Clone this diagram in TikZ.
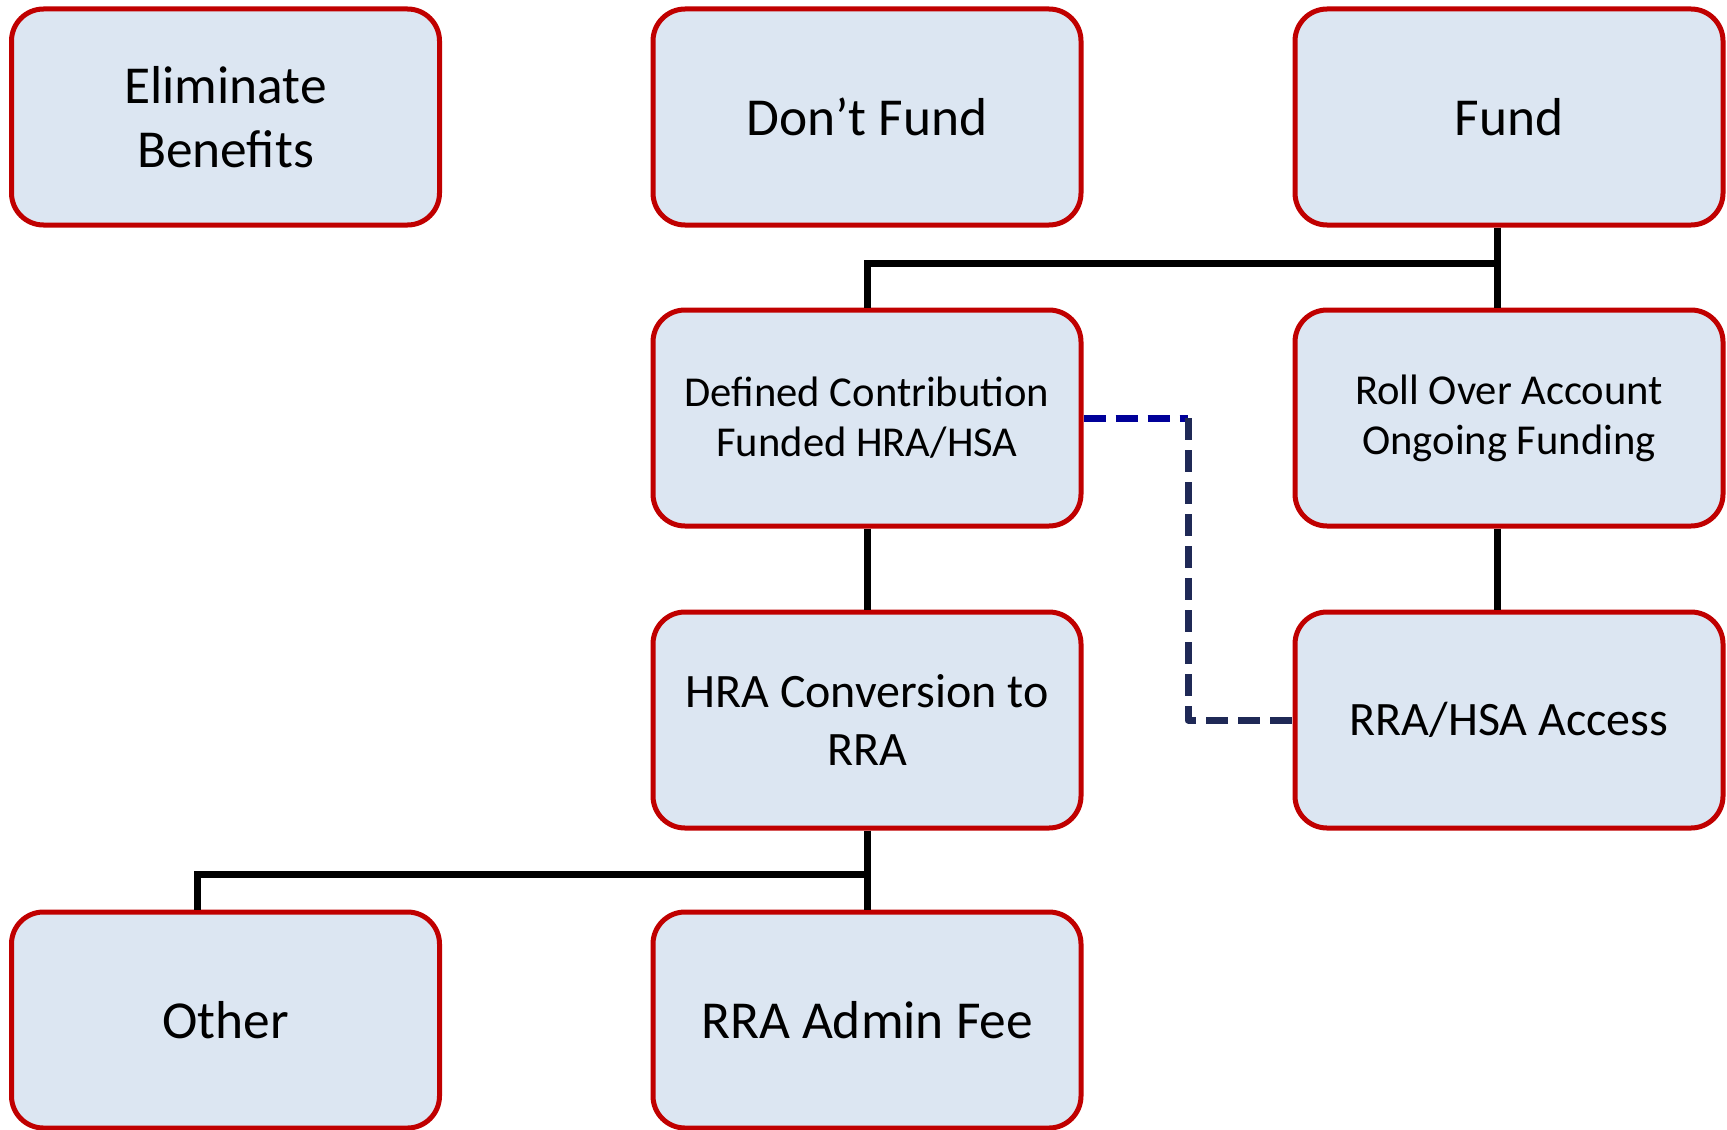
\documentclass[tikz,border=0pt]{standalone}
\usepackage{fontspec}
\setmainfont{Carlito}
\definecolor{boxfill}{RGB}{220,230,242}
\definecolor{boxline}{RGB}{192,0,0}
\definecolor{dashblue}{RGB}{0,0,153}
\definecolor{dashnavy}{RGB}{31,41,86}

\begin{document}
\begin{tikzpicture}[x=0.5pt, y=-0.5pt,
    box/.style={draw=boxline, fill=boxfill, line width=2.5pt, rounded corners=16pt,
      minimum width=214pt, minimum height=108pt, align=center, inner sep=0pt},
    bigtext/.style={font=\fontsize{26.7}{32}\selectfont},
    midtext/.style={font=\fontsize{24}{29}\selectfont},
    smalltext/.style={font=\fontsize{21.3}{25}\selectfont},
    link/.style={line width=3.5pt, draw=black},
    dashlink/.style={line width=3.5pt, dash pattern=on 11pt off 5pt, line join=round}]
    \useasboundingbox (0,0) rectangle (1727,1129);

    % draw top row
    \node[box, bigtext] (elim) at (225.5,117) {Eliminate\\Benefits};
    \node[box, bigtext] (dontfund) at (867,117) {Don’t Fund};
    \node[box, bigtext] (fund) at (1509,117) {Fund};

    % draw second row
    \node[box, smalltext] (defined) at (867,418) {Defined Contribution\\Funded HRA/HSA};
    \node[box, smalltext] (rollover) at (1509,418) {Roll Over Account\\Ongoing Funding};

    % draw third row
    \node[box, midtext] (hraconv) at (867,720) {HRA Conversion to\\RRA};
    \node[box, midtext] (access) at (1509,720) {RRA/HSA Access};

    % draw bottom row
    \node[box, bigtext] (other) at (225.5,1020) {Other};
    \node[box, bigtext] (adminfee) at (867,1020) {RRA Admin Fee};

    % draw solid links
    \coordinate (fundjoin) at (1497,263);
    \coordinate (feejoin) at (867,874);
    \draw[link] ([xshift=-6pt]fund.south) -- ([xshift=-6pt]rollover.north);
    \draw[link] (defined.north) |- (fundjoin);
    \draw[link] (defined.south) -- (hraconv.north);
    \draw[link] ([xshift=-6pt]rollover.south) -- ([xshift=-6pt]access.north);
    \draw[link] (hraconv.south) -- (adminfee.north);
    \draw[link] ([xshift=-14pt]other.north) |- (feejoin);

    % draw dashed link
    \coordinate (dashbend) at (1188,418);
    \draw[dashlink, draw=dashblue] (defined.east) -- (dashbend);
    \draw[dashlink, draw=dashnavy] (dashbend) |- (access.west);
\end{tikzpicture}
\end{document}
